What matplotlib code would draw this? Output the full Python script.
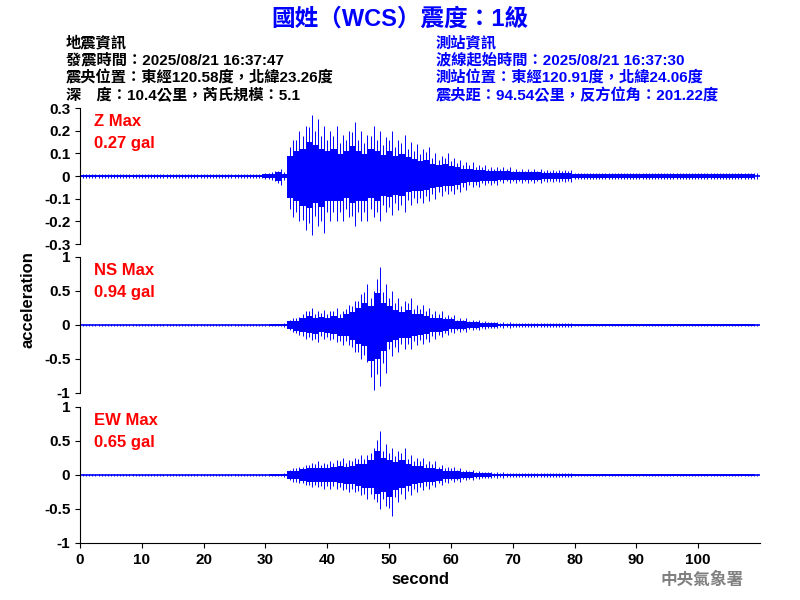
import numpy as np
import matplotlib.pyplot as plt

plt.rcParams['font.family'] = ['Liberation Sans', 'Noto Sans CJK TC', 'DejaVu Sans']
plt.rcParams['font.weight'] = 'bold'
plt.rcParams['axes.labelweight'] = 'bold'

# per-second peak (hi) and trough (lo), 0..109 s
z_hi = [0.01]*30 + [0.015, 0.02, 0.03, 0.02,
        0.16, 0.2, 0.22, 0.27, 0.25, 0.22, 0.2, 0.22, 0.18, 0.2, 0.24, 0.2, 0.18, 0.22, 0.2, 0.17,
        0.2, 0.16, 0.18, 0.15, 0.14, 0.12, 0.13, 0.1, 0.09, 0.1, 0.08, 0.07, 0.06, 0.06, 0.05, 0.05,
        0.04, 0.04, 0.04, 0.04] + [0.03]*5 + [0.025]*5 + [0.015]*30
z_lo = [-0.01]*30 + [-0.015, -0.02, -0.04, -0.02,
        -0.18, -0.2, -0.24, -0.26, -0.22, -0.25, -0.2, -0.2, -0.2, -0.18, -0.22, -0.2, -0.2, -0.18, -0.2, -0.16,
        -0.17, -0.15, -0.16, -0.13, -0.12, -0.12, -0.11, -0.1, -0.09, -0.08, -0.08, -0.07, -0.06, -0.05, -0.05, -0.04,
        -0.04, -0.04, -0.03, -0.03] + [-0.03]*5 + [-0.025]*5 + [-0.015]*30
ns_hi = [0.01]*30 + [0.01, 0.015, 0.02, 0.03,
         0.1, 0.12, 0.2, 0.25, 0.2, 0.22, 0.2, 0.25, 0.2, 0.3, 0.35, 0.45, 0.6, 0.5, 0.85, 0.6,
         0.5, 0.4, 0.35, 0.4, 0.3, 0.3, 0.25, 0.2, 0.2, 0.15, 0.15, 0.1, 0.1, 0.08, 0.07, 0.06,
         0.05, 0.05, 0.04, 0.04] + [0.03]*10 + [0.02]*30
ns_lo = [-0.01]*30 + [-0.01, -0.015, -0.02, -0.03,
         -0.1, -0.15, -0.2, -0.22, -0.25, -0.2, -0.22, -0.25, -0.3, -0.3, -0.4, -0.5, -0.55, -0.95, -0.9, -0.7,
         -0.45, -0.4, -0.35, -0.35, -0.3, -0.28, -0.25, -0.2, -0.18, -0.15, -0.12, -0.1, -0.1, -0.08, -0.07, -0.06,
         -0.05, -0.05, -0.04, -0.04] + [-0.03]*10 + [-0.02]*30
ew_hi = [0.01]*30 + [0.01, 0.015, 0.02, 0.03,
         0.1, 0.12, 0.15, 0.18, 0.2, 0.18, 0.2, 0.22, 0.25, 0.22, 0.25, 0.3, 0.3, 0.4, 0.65, 0.45,
         0.4, 0.35, 0.4, 0.3, 0.25, 0.25, 0.2, 0.2, 0.15, 0.12, 0.12, 0.1, 0.08, 0.07, 0.06, 0.05,
         0.05, 0.04, 0.04, 0.03] + [0.03]*10 + [0.015]*30
ew_lo = [-0.01]*30 + [-0.01, -0.015, -0.02, -0.03,
         -0.1, -0.12, -0.15, -0.18, -0.18, -0.2, -0.2, -0.2, -0.22, -0.25, -0.25, -0.3, -0.35, -0.35, -0.5, -0.45,
         -0.6, -0.4, -0.35, -0.3, -0.25, -0.22, -0.2, -0.18, -0.15, -0.12, -0.1, -0.1, -0.08, -0.07, -0.06, -0.05,
         -0.05, -0.04, -0.04, -0.03] + [-0.03]*10 + [-0.015]*30

panels = [("Z Max", "0.27 gal", z_hi, z_lo, 0.3, [0.3, 0.2, 0.1, 0, -0.1, -0.2, -0.3]),
          ("NS Max", "0.94 gal", ns_hi, ns_lo, 1, [1, 0.5, 0, -0.5, -1]),
          ("EW Max", "0.65 gal", ew_hi, ew_lo, 1, [1, 0.5, 0, -0.5, -1])]

fig = plt.figure(figsize=(8, 6), dpi=100)
tops = [108, 257, 407]
for k, (name, val, hi, lo, lim, ticks) in enumerate(panels):
  top = 1 - tops[k]/600
  ax = fig.add_axes([0.1, top - 136/600, 0.85, 136/600])
  t = np.arange(len(hi))
  ax.axhline(0, color='blue', lw=1.2)
  # inner core of the trace is denser than its peaks
  ax.fill_between(t, np.array(lo)*0.55, np.array(hi)*0.55, step='mid', color='blue', lw=0)
  ax.vlines(t + 0.5, lo, hi, color='blue', lw=0.7)
  ax.vlines(t, np.array(lo)*0.8, np.array(hi)*0.8, color='blue', lw=0.7)
  ax.set_xlim(0, 110)
  ax.set_ylim(-lim, lim)
  ax.set_yticks(ticks)
  ax.set_yticklabels([('%g' % v) for v in ticks], fontsize=11)
  for s in ['top', 'right']:
    ax.spines[s].set_visible(False)
  if k < 2:
    ax.spines['bottom'].set_visible(False)
    ax.set_xticks([])
  else:
    ax.set_xticks(range(0, 101, 10))
    ax.tick_params(axis='x', labelsize=11)
    ax.set_xlabel('second', fontsize=12)
  ax.text(0.02, 0.9, name, transform=ax.transAxes, color='red', fontsize=12, va='center')
  ax.text(0.02, 0.74, val, transform=ax.transAxes, color='red', fontsize=12, va='center')

fig.text(0.035, 0.5, 'acceleration', rotation=90, fontsize=12, va='center', ha='center')

fig.text(0.5, 0.968, '國姓（WCS）震度：1級', color='blue', fontsize=17, ha='center', va='center')
left = ['地震資訊', '發震時間：2025/08/21 16:37:47', '震央位置：東經120.58度，北緯23.26度', '深　度：10.4公里，芮氏規模：5.1']
right = ['測站資訊', '波線起始時間：2025/08/21 16:37:30', '測站位置：東經120.91度，北緯24.06度', '震央距：94.54公里，反方位角：201.22度']
for i in range(4):
  y = 1 - (43 + i*17.5)/600
  fig.text(0.082, y, left[i], color='black', fontsize=11, va='center')
  fig.text(0.545, y, right[i], color='blue', fontsize=11, va='center')
fig.text(0.93, 1 - 580/600, '中央氣象署', color='gray', fontsize=12, ha='right', va='center')

fig.savefig('out.png')
